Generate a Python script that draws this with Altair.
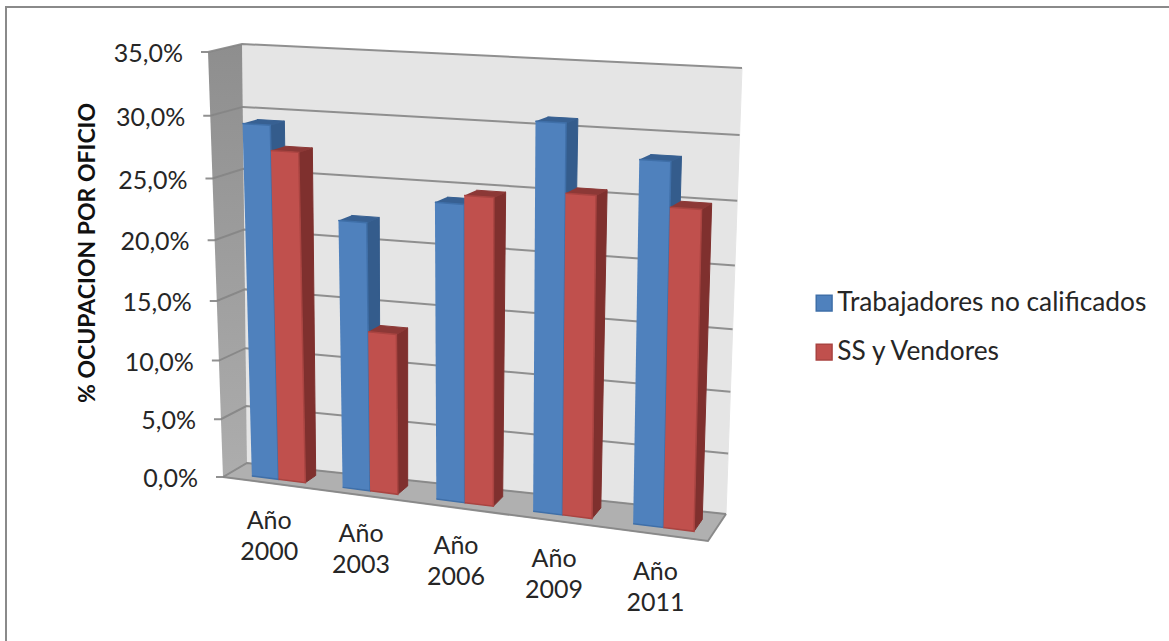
import altair as alt
import pandas as pd

# Chart content
YEARS = ["Año\n2000", "Año\n2003", "Año\n2006", "Año\n2009", "Año\n2011"]
SERIES = ["Trabajadores no calificados", "SS y Vendores"]
NO_CALIFICADOS = [29.3, 22.1, 24.1, 30.8, 28.4]
VENDORES = [27.3, 13.3, 24.8, 25.5, 25.0]
TICKS = [0, 5, 10, 15, 20, 25, 30, 35]
Y_TITLE = "% OCUPACION POR OFICIO"

W, H = 1169, 641
VMAX = 35.0
FONT = "Lato"
GRID = "#858585"
TEXT = "#262626"

# Screen positions of the eight corners of the 3D plot box, (across, up, depth)
BOX = {
    (0, 0, 0): (223, 477), (1, 0, 0): (708, 541),
    (0, 1, 0): (208, 52), (1, 1, 0): (718, 76),
    (0, 0, 1): (247, 463), (1, 0, 1): (726, 514),
    (0, 1, 1): (242, 44), (1, 1, 1): (742, 68),
}
# Foreshortening along the value and category directions
PERSPECTIVE_V, PERSPECTIVE_U = 0.06, 0.085


def project(u, value, w):
    """Trilinear mapping of a box coordinate to screen coordinates."""
    v = value / VMAX
    v = v / (1 + PERSPECTIVE_V * (1 - v))
    u = u / (1 + PERSPECTIVE_U * (1 - u))
    px = py = 0.0
    for (a, b, c), (x, y) in BOX.items():
        k = (u if a else 1 - u) * (v if b else 1 - v) * (w if c else 1 - w)
        px += k * x
        py += k * y
    return round(px, 2), round(py, 2)


def face(target, name, fill, stroke, corners):
    for i, (u, v, w) in enumerate(corners):
        x, y = project(u, v, w)
        target.append(dict(poly=name, i=i, x=x, y=y, fill=fill, edge=stroke))


# Walls and floor
wall_back = []
face(wall_back, "back", "#e5e5e5", "#e5e5e5",
     [(0, 0, 1), (1, 0, 1), (1, VMAX, 1), (0, VMAX, 1)])
face(wall_back, "floor", "#b0b0b0", "#a8a8a8",
     [(0, 0, 0), (1, 0, 0), (1, 0, 1), (0, 0, 1)])
wall_side = []
face(wall_side, "side", "#999999", "#999999",
     [(0, 0, 0), (0, 0, 1), (0, VMAX, 1), (0, VMAX, 0)])

# Gridlines over the side wall and back wall, with a tick at the front
grid = []
for t in TICKS:
    pts = [project(0, t, 0), project(0, t, 1), project(1, t, 1)]
    x0, y0 = pts[0]
    grid.append(dict(line=f"g{t}", i=0, x=x0 - 7, y=y0))
    for j, (x, y) in enumerate(pts, start=1):
        grid.append(dict(line=f"g{t}", i=j, x=x, y=y))
for j, (u, w) in enumerate([(0, 0), (1, 0), (1, 1)]):
    x, y = project(u, 0, w)
    grid.append(dict(line="floor", i=j, x=x, y=y))

# Bars: sides and tops first, then the front faces
FIRST, PERIOD, BAR_W, W0, W1 = 0.05, 0.199, 0.059, 0.27, 0.72
SIDE_COLORS = [("#345c8c", "#376092"), ("#7f302e", "#8c3836")]
bar_back, bar_front = [], []
for k in range(len(YEARS)):
    for s, vals in enumerate([NO_CALIFICADOS, VENDORES]):
        val = vals[k]
        a = FIRST + PERIOD * k + BAR_W * s
        b = a + BAR_W
        side_c, top_c = SIDE_COLORS[s]
        key = f"{k}-{s}"
        face(bar_back, key + "side", side_c, side_c,
             [(b, 0, W0), (b, 0, W1), (b, val, W1), (b, val, W0)])
        face(bar_back, key + "top", top_c, top_c,
             [(a, val, W0), (b, val, W0), (b, val, W1), (a, val, W1)])
        for i, (u, v) in enumerate([(a, 0), (b, 0), (b, val), (a, val)]):
            x, y = project(u, v, W0)
            bar_front.append(dict(poly=key, i=i, x=x, y=y, serie=SERIES[s]))

x_enc = alt.X("x:Q", scale=alt.Scale(domain=[0, W]), axis=None)
y_enc = alt.Y("y:Q", scale=alt.Scale(domain=[H, 0]), axis=None)


def polygons(records):
    return alt.Chart(pd.DataFrame(records)).mark_line(strokeWidth=1, filled=True).encode(
        x=x_enc, y=y_enc, order="i:Q", detail="poly:N",
        fill=alt.Fill("fill:N", scale=None, legend=None),
        stroke=alt.Stroke("edge:N", scale=None, legend=None),
    )


side_wall = alt.Chart(pd.DataFrame(wall_side)).mark_line(
    strokeWidth=0, filled=True,
    fill=alt.Gradient(gradient="linear", x1=0, y1=0, x2=0, y2=1,
                      stops=[alt.GradientStop(color="#8e8e8e", offset=0),
                             alt.GradientStop(color="#adadad", offset=1)]),
).encode(x=x_enc, y=y_enc, order="i:Q", detail="poly:N")

gridlines = alt.Chart(pd.DataFrame(grid)).mark_line(
    color=GRID, strokeWidth=2, opacity=0.9
).encode(x=x_enc, y=y_enc, order="i:Q", detail="line:N")

fronts = alt.Chart(pd.DataFrame(bar_front)).mark_line(strokeWidth=1.5, filled=True).encode(
    x=x_enc, y=y_enc, order="i:Q", detail="poly:N",
    fill=alt.Fill("serie:N", scale=alt.Scale(domain=SERIES, range=["#4f81bd", "#c0504d"]),
                  legend=alt.Legend(
                      title=None, orient="none", legendX=811, legendY=290,
                      symbolType="square", symbolSize=250, symbolStrokeWidth=1.5,
                      symbolStrokeColor="#44546a", labelFont=FONT, labelFontSize=26.3,
                      labelColor=TEXT, labelLimit=400, rowPadding=22,
                      labelOffset=0)),
    stroke=alt.Stroke("serie:N", scale=alt.Scale(domain=SERIES, range=["#3f6fa8", "#a94441"]),
                      legend=None),
)

# Text
tick_text = []
for t in TICKS:
    x, y = project(0, t, 0)
    tick_text.append(dict(x=x - 25, y=y + 2, label=f"{t:.1f}".replace(".", ",") + "%"))
ticks_layer = alt.Chart(pd.DataFrame(tick_text)).mark_text(
    align="right", baseline="middle", font=FONT, fontSize=25, color=TEXT
).encode(x=x_enc, y=y_enc, text="label:N")

year_text = []
for k, label in enumerate(YEARS):
    x, y = project(FIRST + PERIOD * k + BAR_W, 0, 0)
    year_text.append(dict(x=x - 3, y=y + 38, label=label))
years_layer = alt.Chart(pd.DataFrame(year_text)).mark_text(
    align="center", baseline="middle", font=FONT, fontSize=25, color=TEXT,
    lineBreak="\n", lineHeight=31,
).encode(x=x_enc, y=y_enc, text="label:N")

title_layer = alt.Chart(pd.DataFrame([dict(x=88, y=253, label=Y_TITLE)])).mark_text(
    align="center", baseline="middle", font=FONT, fontSize=23, fontWeight="bold",
    color="#111111", angle=270,
).encode(x=x_enc, y=y_enc, text="label:N")

# Frame around the chart
frame = pd.DataFrame([dict(i=0, x=6, y=H), dict(i=1, x=6, y=7), dict(i=2, x=W, y=7)])
frame_layer = alt.Chart(frame).mark_line(color="#8a8a8a", strokeWidth=2).encode(
    x=x_enc, y=y_enc, order="i:Q"
)

chart = alt.layer(
    polygons(wall_back), side_wall, gridlines, polygons(bar_back), fronts,
    ticks_layer, years_layer, title_layer, frame_layer,
).resolve_scale(fill="independent", stroke="independent").properties(
    width=W, height=H, padding=0, autosize=alt.AutoSizeParams(type="none"),
    background="white",
).configure_view(stroke=None)

chart.save("out.html", embed_options={"renderer": "svg", "actions": False})
